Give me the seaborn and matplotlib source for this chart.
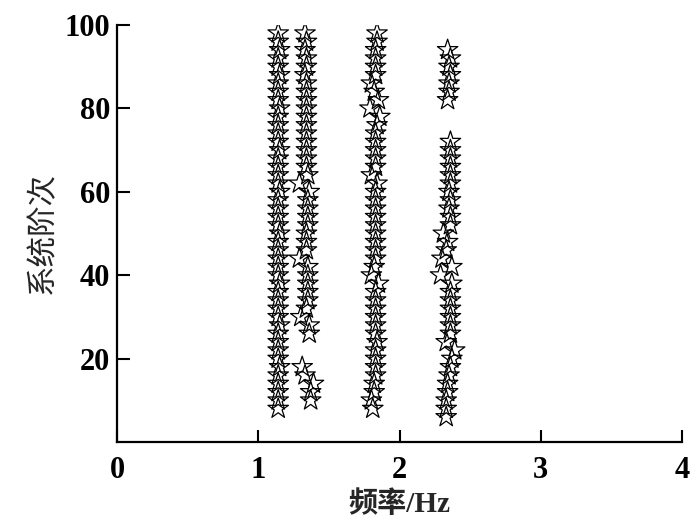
import matplotlib
matplotlib.use("Agg")
import matplotlib.pyplot as plt
import seaborn as sns
import pandas as pd

# ---- data ----
mode1_order = [98, 96, 94, 92, 90, 88, 86, 84, 82, 80, 78, 76, 74, 72, 70, 68, 66, 64, 62, 60,
               58, 56, 54, 52, 50, 48, 46, 44, 42, 40, 38, 36, 34, 32, 30, 28, 26, 24, 22, 20,
               18, 16, 14, 12, 10, 8]
mode1_freq = [1.14, 1.14, 1.15, 1.14, 1.14, 1.15, 1.14, 1.14, 1.14, 1.15, 1.14, 1.14, 1.14, 1.14,
              1.15, 1.14, 1.14, 1.14, 1.14, 1.15, 1.14, 1.14, 1.14, 1.14, 1.15, 1.14, 1.14, 1.14,
              1.14, 1.14, 1.15, 1.14, 1.14, 1.14, 1.14, 1.15, 1.14, 1.14, 1.14, 1.14, 1.15, 1.14,
              1.14, 1.14, 1.14, 1.14]

mode2_order = [98, 96, 94, 92, 90, 88, 86, 84, 82, 80, 78, 76, 74, 72, 70, 68, 66, 64, 62, 60,
               58, 56, 54, 52, 50, 48, 46, 44, 42, 40, 38, 36, 34, 32, 30, 28, 26,
               18, 16, 14, 12, 10]
mode2_freq = [1.33, 1.34, 1.33, 1.34, 1.34, 1.33, 1.34, 1.34, 1.34, 1.34, 1.34, 1.34, 1.34, 1.34,
              1.34, 1.34, 1.34, 1.35, 1.29, 1.36, 1.35, 1.35, 1.35, 1.35, 1.34, 1.34, 1.34, 1.29,
              1.35, 1.35, 1.35, 1.35, 1.35, 1.34, 1.30, 1.36, 1.36,
              1.31, 1.33, 1.39, 1.37, 1.37]

mode3_order = [98, 96, 94, 92, 90, 88, 86, 84, 82, 80, 78, 76, 74, 72, 70, 68, 66, 64, 62, 60,
               58, 56, 54, 52, 50, 48, 46, 44, 42, 40, 38, 36, 34, 32, 30, 28, 26, 24, 22, 20,
               18, 16, 14, 12, 10, 8]
mode3_freq = [1.84, 1.84, 1.83, 1.83, 1.83, 1.83, 1.80, 1.82, 1.85, 1.79, 1.86, 1.84, 1.83, 1.83,
              1.83, 1.83, 1.83, 1.80, 1.84, 1.83, 1.83, 1.83, 1.83, 1.83, 1.83, 1.83, 1.83, 1.83,
              1.82, 1.80, 1.85, 1.83, 1.83, 1.83, 1.83, 1.83, 1.83, 1.84, 1.83, 1.83, 1.83, 1.83,
              1.82, 1.82, 1.80, 1.81]

mode4_order = [94, 92, 90, 88, 86, 84, 82,
               72, 70, 68, 66, 64, 62, 60, 58, 56, 54, 52, 50, 48, 46, 44, 42, 40, 38, 36, 34,
               32, 30, 28, 26, 24, 22, 20, 18, 16, 14, 12, 10, 8, 6]
mode4_freq = [2.34, 2.36, 2.35, 2.36, 2.35, 2.35, 2.34,
              2.36, 2.36, 2.36, 2.36, 2.36, 2.36, 2.35, 2.36, 2.35, 2.36, 2.36, 2.31, 2.34, 2.33,
              2.30, 2.37, 2.29, 2.37, 2.36, 2.36, 2.36, 2.36, 2.36, 2.36, 2.33, 2.39, 2.37, 2.36,
              2.35, 2.34, 2.34, 2.33, 2.33, 2.33]

x_ticks = [0, 1, 2, 3, 4]
y_ticks = [20, 40, 60, 80, 100]
x_label = "频率/Hz"
y_label = "系统阶次"

df = pd.DataFrame({
    "freq": mode1_freq + mode2_freq + mode3_freq + mode4_freq,
    "order": mode1_order + mode2_order + mode3_order + mode4_order,
})

sns.set_style("ticks")
num_font = ["Liberation Serif", "Noto Sans CJK SC"]
plt.rcParams["font.family"] = num_font

fig = plt.figure(figsize=(6.98, 5.30), dpi=100)
ax = fig.add_axes([0.168, 0.166, 0.809, 0.787])

sns.scatterplot(data=df, x="freq", y="order", ax=ax, marker="*", s=240,
                facecolor="none", edgecolor="black", linewidth=0.9, legend=False)

ax.set_xlim(0, 4)
ax.set_ylim(0, 100)
ax.set_xticks(x_ticks)
ax.set_yticks(y_ticks)
ax.set_xticklabels([str(v) for v in x_ticks], fontsize=22, fontweight="bold")
ax.set_yticklabels([str(v) for v in y_ticks], fontsize=22, fontweight="bold")
ax.tick_params(direction="in", length=9, width=1.5, colors="black")
ax.tick_params(axis="x", pad=10)
ax.tick_params(axis="y", pad=5)
for side in ["top", "right"]:
    ax.spines[side].set_visible(False)
for side in ["left", "bottom"]:
    ax.spines[side].set_linewidth(1.6)
    ax.spines[side].set_color("black")

ax.set_xlabel(x_label, fontsize=21, fontweight="bold", family=num_font, labelpad=4)
ax.set_ylabel(y_label, fontsize=22, family=num_font, labelpad=5)

fig.savefig("out.png", dpi=100)
